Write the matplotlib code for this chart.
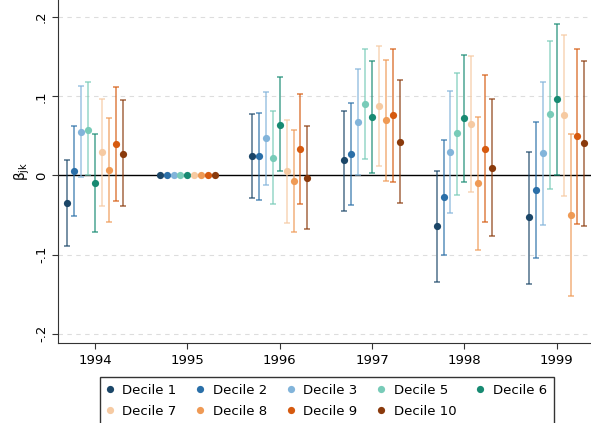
import matplotlib
matplotlib.use("Agg")
import matplotlib.pyplot as plt
import numpy as np

# ---------------------------------------------------------------------------
# Data (coefficient and 95% CI per decile and year)
# ---------------------------------------------------------------------------
years = [1994, 1995, 1996, 1997, 1998, 1999]
deciles = ["Decile 1", "Decile 2", "Decile 3", "Decile 5", "Decile 6",
           "Decile 7", "Decile 8", "Decile 9", "Decile 10"]
colors = ["#1b4668", "#2a6fa8", "#82b4da", "#78cbb8", "#178a72",
          "#f6caa2", "#ef9a55", "#d65a0f", "#8a3a0c"]

coef = [
    [-0.035, 0.0, 0.025, 0.019, -0.064, -0.053],
    [0.006, 0.0, 0.025, 0.027, -0.027, -0.018],
    [0.055, 0.0, 0.047, 0.067, 0.030, 0.028],
    [0.058, 0.0, 0.022, 0.090, 0.053, 0.077],
    [-0.009, 0.0, 0.064, 0.074, 0.072, 0.096],
    [0.029, 0.0, 0.005, 0.088, 0.065, 0.076],
    [0.007, 0.0, -0.007, 0.070, -0.010, -0.050],
    [0.040, 0.0, 0.034, 0.076, 0.034, 0.050],
    [0.027, 0.0, -0.003, 0.042, 0.010, 0.041],
]
ci_hi = [
    [0.020, 0.0, 0.078, 0.082, 0.006, 0.030],
    [0.062, 0.0, 0.079, 0.092, 0.045, 0.067],
    [0.113, 0.0, 0.105, 0.135, 0.107, 0.118],
    [0.118, 0.0, 0.081, 0.160, 0.130, 0.170],
    [0.052, 0.0, 0.124, 0.145, 0.152, 0.191],
    [0.096, 0.0, 0.070, 0.164, 0.151, 0.178],
    [0.073, 0.0, 0.057, 0.146, 0.074, 0.052],
    [0.112, 0.0, 0.103, 0.160, 0.127, 0.160],
    [0.095, 0.0, 0.062, 0.120, 0.097, 0.145],
]
ci_lo = [
    [-0.089, 0.0, -0.029, -0.045, -0.134, -0.137],
    [-0.051, 0.0, -0.031, -0.037, -0.100, -0.104],
    [-0.002, 0.0, -0.012, 0.000, -0.047, -0.063],
    [0.000, 0.0, -0.036, 0.021, -0.025, -0.017],
    [-0.071, 0.0, 0.005, 0.003, -0.008, 0.000],
    [-0.038, 0.0, -0.060, 0.012, -0.021, -0.026],
    [-0.059, 0.0, -0.071, -0.007, -0.094, -0.152],
    [-0.032, 0.0, -0.036, -0.008, -0.059, -0.061],
    [-0.039, 0.0, -0.068, -0.035, -0.077, -0.064],
]

yticks = [-0.2, -0.1, 0.0, 0.1, 0.2]
ytick_labels = ["-.2", "-.1", "0", ".1", ".2"]

fig = plt.figure(figsize=(5.91, 4.23), dpi=100)
ax = fig.add_axes([58.3 / 591, 79.7 / 423, 1 - 58.3 / 591, 343.3 / 423])

step = 0.075
handles = []
for i, (name, col) in enumerate(zip(deciles, colors)):
    x = np.array(years) + (i - 4) * step
    y = np.array(coef[i])
    lo = np.array(ci_lo[i])
    hi = np.array(ci_hi[i])
    has_ci = hi - lo > 0
    ax.errorbar(x[has_ci], y[has_ci], yerr=[y[has_ci] - lo[has_ci], hi[has_ci] - y[has_ci]],
                fmt="none", ecolor=col, alpha=0.7, elinewidth=1.2, capsize=2.5,
                capthick=1.2, zorder=2)
    h, = ax.plot(x, y, "o", color=col, markersize=5.2, markeredgewidth=0,
                 label=name, zorder=3)
    handles.append(h)

ax.axhline(0, color="black", linewidth=1.0, zorder=1)
for v in [-0.2, -0.1, 0.1, 0.2]:
    ax.axhline(v, color="#dddddd", linewidth=0.8, linestyle=(0, (4, 4)), zorder=0)

ax.set_xlim(1993.602, 1999.372)
ax.set_ylim(-0.212, 0.2216)
ax.set_xticks(years)
ax.set_xticklabels([str(y) for y in years], fontsize=9.5)
ax.set_yticks(yticks)
ax.set_yticklabels(ytick_labels, fontsize=9.5, rotation=90, va="center")
ax.set_ylabel(r"$\mathrm{\beta}_{\mathrm{jk}}$", fontsize=10, labelpad=2)

for side in ["top", "right"]:
    ax.spines[side].set_visible(False)
ax.spines["left"].set_color("#333333")
ax.spines["bottom"].set_color("#333333")
ax.tick_params(axis="both", direction="out", length=4, width=0.8, color="#333333")

# legend filled row by row (matplotlib fills columns first)
order = [0, 5, 1, 6, 2, 7, 3, 8, 4]
fig.legend([handles[k] for k in order], [deciles[k] for k in order],
           loc="upper left", bbox_to_anchor=(100 / 591, 1 - 377 / 423), ncol=5,
           fontsize=9.5, frameon=True, fancybox=False, edgecolor="black",
           handletextpad=0.7, columnspacing=1.55, handlelength=0.5,
           borderpad=0.5, labelspacing=0.6, borderaxespad=0)

fig.savefig("out.png", dpi=100)
